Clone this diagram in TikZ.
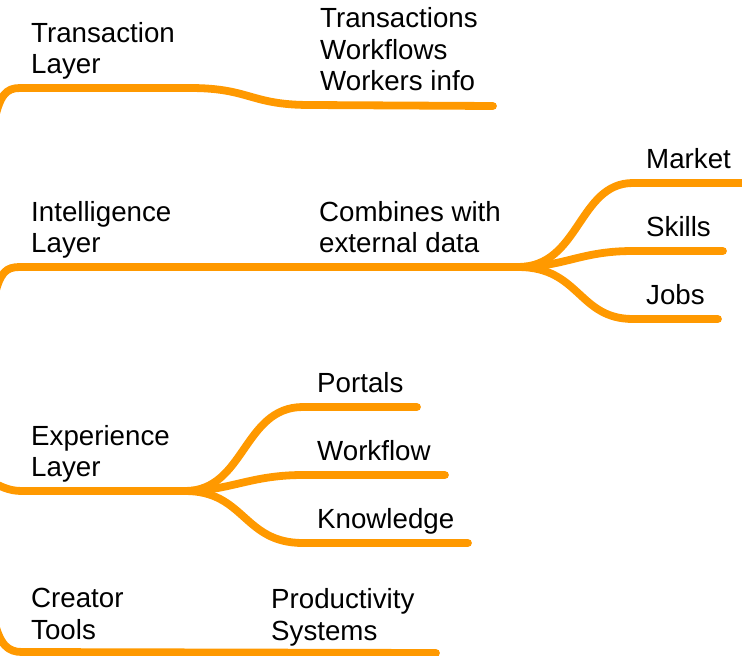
\documentclass[tikz,border=0pt]{standalone}
\usepackage{fontspec}
\setmainfont{Liberation Sans}
\definecolor{branch}{RGB}{255,153,0}
\begin{document}
\begin{tikzpicture}[x=1pt,y=-1pt,
  lbl/.style={anchor=base west, inner sep=0pt, font=\fontsize{27.7}{31}\selectfont, text=black},
  edge/.style={draw=branch, line width=7.8pt, line cap=round, line join=round}]
\useasboundingbox (0,0) rectangle (742,656);
% Transaction layer
\node[lbl] (tl1) at (31,42) {Transaction};
\node[lbl] (tl2) at (31,73) {Layer};
\node[lbl] (tr1) at (320,27) {Transactions};
\node[lbl] (tr2) at (320,59) {Workflows};
\node[lbl] (tr3) at (320,90) {Workers info};
\coordinate (ts) at (-6,122);
\coordinate (ta) at (20,88);
\coordinate (tb) at (190,88);
\coordinate (tc) at (310,105);
\coordinate (td) at (493,106);
\path[edge] (ts) .. controls (0,95) and (6,88) .. (ta) -- (tb) .. controls (250,88) and (250,105) .. (tc) -- (td);
% Intelligence layer
\node[lbl] (il1) at (31,221) {Intelligence};
\node[lbl] (il2) at (31,252) {Layer};
\node[lbl] (ic1) at (319,221) {Combines with};
\node[lbl] (ic2) at (319,252) {external data};
\node[lbl] (im) at (646,168) {Market};
\node[lbl] (is) at (646,236) {Skills};
\node[lbl] (ij) at (646,304) {Jobs};
\coordinate (is0) at (-6,298);
\coordinate (ia) at (20,267);
\coordinate (ib) at (518,267);
\coordinate (imk) at (633,183);
\coordinate (imk2) at (745,183);
\coordinate (isk) at (633,251);
\coordinate (isk2) at (723,251);
\coordinate (ijb) at (633,319);
\coordinate (ijb2) at (718,319);
\path[edge] (is0) .. controls (0,272) and (6,267) .. (ia) -- (ib);
\path[edge] (ib) .. controls (580,267) and (578,183) .. (imk) -- (imk2);
\path[edge] (ib) .. controls (565,267) and (580,251) .. (isk) -- (isk2);
\path[edge] (ib) .. controls (580,267) and (578,319) .. (ijb) -- (ijb2);
% Experience layer
\node[lbl] (el1) at (31,445) {Experience};
\node[lbl] (el2) at (31,476) {Layer};
\node[lbl] (ep) at (317,392) {Portals};
\node[lbl] (ew) at (317,460) {Workflow};
\node[lbl] (ek) at (317,528) {Knowledge};
\coordinate (es) at (-12,480);
\coordinate (ea) at (22,491);
\coordinate (eb) at (185,491);
\coordinate (epo) at (303,407);
\coordinate (epo2) at (417,407);
\coordinate (ewo) at (303,475);
\coordinate (ewo2) at (445,475);
\coordinate (eko) at (303,543);
\coordinate (eko2) at (468,543);
\path[edge] (es) .. controls (0,486) and (8,491) .. (ea) -- (eb);
\path[edge] (eb) .. controls (245,491) and (243,407) .. (epo) -- (epo2);
\path[edge] (eb) .. controls (230,491) and (250,475) .. (ewo) -- (ewo2);
\path[edge] (eb) .. controls (245,491) and (243,543) .. (eko) -- (eko2);
% Creator tools
\node[lbl] (cl1) at (31,607) {Creator};
\node[lbl] (cl2) at (31,639) {Tools};
\node[lbl] (cp1) at (271,608) {Productivity};
\node[lbl] (cp2) at (271,640) {Systems};
\coordinate (cs) at (-6,620);
\coordinate (ca) at (22,652);
\coordinate (cb) at (436,653);
\path[edge] (cs) .. controls (0,645) and (8,652) .. (ca) -- (cb);
\end{tikzpicture}
\end{document}
